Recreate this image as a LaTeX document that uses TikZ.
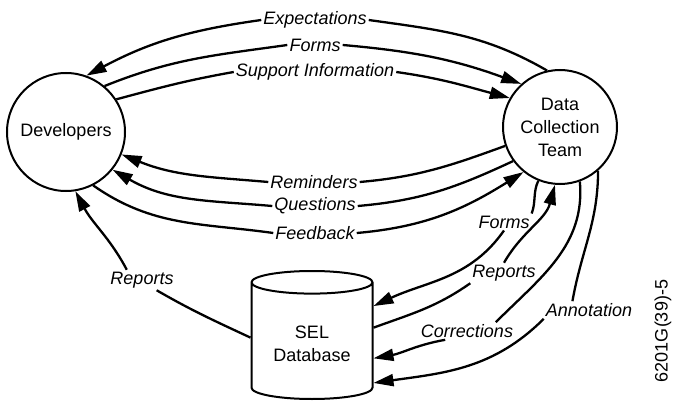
\documentclass[tikz,border=0pt]{standalone}
\usepackage{fontspec}
\setmainfont{Liberation Sans}
\usepackage{tikz}
\tikzset{party/.style={draw,circle,line width=2pt,align=center} }
\tikzset{store/.style={draw,cylinder,shape border rotate=90,aspect=0.27,line width=2pt,
    minimum width=121pt,minimum height=128pt,align=center} }
\tikzset{flowlbl/.style={font=\fontsize{18}{20}\selectfont\itshape,inner sep=2pt} }
\tikzset{flow/.style={line width=2.3pt} }
\tikzset{arr/.style={-{Triangle[length=20pt,width=12pt]}} }
\usetikzlibrary{shapes.geometric,arrows.meta}

\begin{document}
\begin{tikzpicture}[x=1pt,y=1pt,font=\fontsize{18}{23}\selectfont]
    \useasboundingbox (0,0) rectangle (674,402);
    \node[party,minimum size=118pt] (dev) at (66,270) {Developers};
    \node[party,minimum size=114pt] (dct) at (560,275) {Data\\Collection\\Team};
    \node[store] (db) at (312,59)
        {\raisebox{-2pt}[\height][\depth]{\begin{tabular}{@{}c@{}}SEL\\Database\end{tabular}}};
    % labels on the flows
    \node[flowlbl] (lExp) at (315,382) {Expectations};
    \node[flowlbl] (lFormsT) at (315,357) {Forms};
    \node[flowlbl] (lSup) at (315,330) {Support Information};
    \node[flowlbl] (lRem) at (314,220) {Reminders};
    \node[flowlbl] (lQue) at (315,196) {Questions};
    \node[flowlbl] (lFeed) at (315,169) {Feedback};
    \node[flowlbl] (lRepL) at (142,122) {Reports};
    \node[flowlbl] (lFormsB) at (504,180) {Forms};
    \node[flowlbl] (lRepB) at (504,129) {Reports};
    \node[flowlbl] (lCor) at (467,71) {Corrections};
    \node[flowlbl] (lAnn) at (589,92) {Annotation};
    \node[rotate=90] (fig) at (663,71) {6201G(39)-5};
    % developers <-> data collection team
    \draw[flow] (dct.103) to[out=150,in=-8] (lExp.east);
    \draw[flow,arr] (lExp.west) to[out=188,in=28] (dev.70);
    \draw[flow] (dev.50) to[out=22,in=188] (lFormsT.west);
    \draw[flow,arr] (lFormsT.east) to[out=-5,in=160] (dct.132);
    \draw[flow] (dev.33) to[out=15,in=190] (lSup.west);
    \draw[flow,arr] (lSup.east) to[out=-8,in=165] (dct.150);
    \draw[flow] (dct.199) to[out=200,in=5] (lRem.east);
    \draw[flow,arr] (lRem.west) to[out=175,in=-22] (dev.-22);
    \draw[flow] (dct.216) to[out=205,in=5] (lQue.east);
    \draw[flow,arr] (lQue.west) to[out=175,in=-30] (dev.-39);
    \draw[flow] (dev.-63) to[out=-35,in=172] (lFeed.west);
    \draw[flow,arr] (lFeed.east) to[out=5,in=212] (dct.231);
    % database flows
    \draw[flow] (db.175) to[out=155,in=-30] (lRepL.-35);
    \draw[flow,arr] (lRepL.146) to[out=118,in=-62] (dev.-81);
    \draw[flow] (dct.248) to[out=245,in=70] (lFormsB.north east);
    \draw[flow,arr] (lFormsB.south) to[out=235,in=25] (db.31);
    \draw[flow] (db.14) to[out=20,in=215] (lRepB.south west);
    \draw[flow,arr] (lRepB.north) to[out=60,in=255] (dct.265);
    \draw[flow] (dct.290) to[out=-85,in=45] (lCor.17);
    \draw[flow,arr] (lCor.202) to[out=190,in=10] (db.-14);
    \draw[flow] (dct.311) to[out=-90,in=80] (lAnn.152);
    \draw[flow,arr] (lAnn.south west) to[out=225,in=8] (db.-33);
\end{tikzpicture}
\end{document}
